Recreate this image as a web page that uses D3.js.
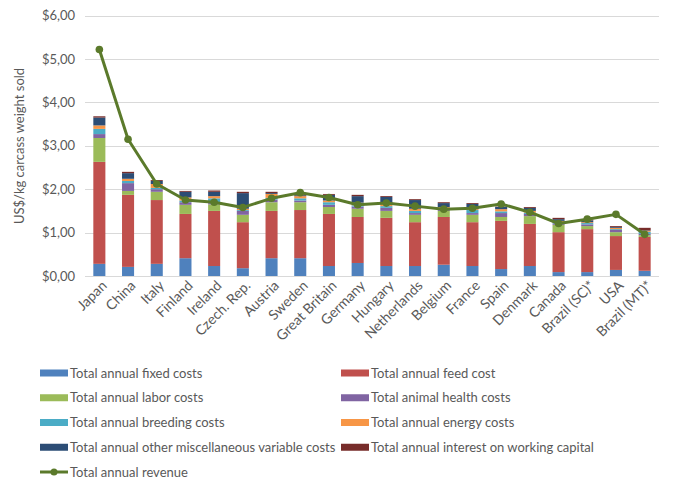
<!DOCTYPE html>
<html><head><meta charset="utf-8">
<script src="https://cdn.jsdelivr.net/npm/d3@7"></script>
<style>body{margin:0;background:#fff;} svg{display:block;}</style>
</head><body>
<svg id="chart" width="674" height="492"></svg>
<script>
const categories = ["Japan","China","Italy","Finland","Ireland","Czech. Rep.","Austria","Sweden","Great Britain","Germany","Hungary","Netherlands","Belgium","France","Spain","Denmark","Canada","Brazil (SC)*","USA","Brazil (MT)*"];
const fixedCosts     = [0.28,0.21,0.28,0.41,0.23,0.18,0.41,0.41,0.23,0.30,0.23,0.23,0.26,0.23,0.16,0.23,0.09,0.09,0.14,0.12];
const feedCost       = [2.35,1.66,1.47,1.02,1.27,1.06,1.09,1.11,1.20,1.06,1.11,1.01,1.10,1.01,1.11,0.97,0.92,0.99,0.78,0.78];
const laborCosts     = [0.55,0.09,0.19,0.21,0.15,0.17,0.20,0.18,0.16,0.19,0.16,0.17,0.14,0.17,0.09,0.18,0.17,0.07,0.09,0.04];
const healthCosts    = [0.09,0.18,0.06,0.06,0.03,0.09,0.06,0.04,0.05,0.05,0.07,0.04,0.03,0.04,0.09,0.05,0.03,0.04,0.05,0.03];
const breedingCosts  = [0.12,0.05,0.03,0.04,0.11,0.02,0.04,0.05,0.06,0.03,0.04,0.05,0.04,0.07,0.04,0.03,0.02,0.03,0.02,0.05];
const energyCosts    = [0.08,0.05,0.09,0.07,0.05,0.03,0.09,0.05,0.04,0.06,0.05,0.05,0.02,0.02,0.05,0.04,0.04,0.02,0.03,0.02];
const miscCosts      = [0.18,0.13,0.07,0.13,0.10,0.36,0.02,0.02,0.13,0.15,0.16,0.20,0.09,0.12,0.05,0.07,0.04,0.04,0.02,0.01];
const interestCosts  = [0.03,0.03,0.02,0.02,0.03,0.03,0.03,0.01,0.02,0.03,0.02,0.02,0.02,0.02,0.01,0.02,0.03,0.02,0.02,0.06];
const revenue        = [5.22,3.15,2.12,1.75,1.70,1.58,1.79,1.92,1.81,1.64,1.68,1.61,1.54,1.56,1.66,1.47,1.21,1.31,1.42,0.96];
const yTicks = [0,1,2,3,4,5,6];

const seriesNames = ["Total annual fixed costs","Total annual feed cost","Total annual labor costs","Total animal health costs","Total annual breeding costs","Total annual energy costs","Total annual other miscellaneous variable costs","Total annual interest on working capital"];
const seriesData = [fixedCosts,feedCost,laborCosts,healthCosts,breedingCosts,energyCosts,miscCosts,interestCosts];
const colors = ["#4F81BD","#C0504D","#9BBB59","#8064A2","#4BACC6","#F79646","#2C4D75","#772C2A"];
const lineName = "Total annual revenue";
const lineColor = "#5B7A2B";

const font = "Lato, 'Open Sans', sans-serif";
const textColor = "#595959";
const svg = d3.select("#chart");
const x = d3.scaleBand().domain(categories).range([85, 659]).paddingInner(0.58).paddingOuter(0.29);
const y = d3.scaleLinear().domain([0,6]).range([276, 15.6]);

// gridlines
svg.append("g").selectAll("line").data(yTicks).join("line")
  .attr("x1",85).attr("x2",659).attr("y1",d=>Math.round(y(d))+0.5).attr("y2",d=>Math.round(y(d))+0.5)
  .attr("stroke","#D9D9D9").attr("stroke-width",1);

// y axis labels
const yAxis = d3.axisLeft(y).tickValues(yTicks).tickSize(0).tickPadding(10)
  .tickFormat(d => "$" + d3.format(".2f")(d).replace(".", ","));
const gy = svg.append("g").attr("transform","translate(85,0)").call(yAxis);
gy.select(".domain").remove();
gy.selectAll("text").attr("font-family",font).attr("font-size","13px").attr("fill",textColor);

// y title
svg.append("text").attr("transform","translate(24,146) rotate(-90)")
  .attr("text-anchor","middle").attr("font-family",font).attr("font-size","13px").attr("fill",textColor)
  .text("US$/kg carcass weight sold");

// stacked bars
const table = categories.map((c,i)=>{const o={cat:c}; seriesNames.forEach((s,j)=>o[s]=seriesData[j][i]); return o;});
const stacked = d3.stack().keys(seriesNames)(table);
svg.append("g").selectAll("g").data(stacked).join("g").attr("fill",(d,i)=>colors[i])
  .selectAll("rect").data(d=>d).join("rect")
  .attr("x",d=>x(d.data.cat)).attr("width",x.bandwidth())
  .attr("y",d=>y(d[1])).attr("height",d=>y(d[0])-y(d[1]));

// x labels
const xAxis = d3.axisBottom(x).tickSize(0).tickPadding(0);
const gx = svg.append("g").attr("transform","translate(0,279)").call(xAxis);
gx.select(".domain").remove();
gx.selectAll("text").attr("font-family",font).attr("font-size","14px").attr("fill",textColor)
  .attr("text-anchor","end").attr("dy","0.35em").attr("dx","0")
  .attr("transform","translate(5,4) rotate(-45)");

// revenue line
const line = d3.line().x((d,i)=>x(categories[i])+x.bandwidth()/2).y(d=>y(d));
svg.append("path").datum(revenue).attr("d",line).attr("fill","none").attr("stroke",lineColor)
  .attr("stroke-width",3).attr("stroke-linejoin","round");
svg.append("g").selectAll("circle").data(revenue).join("circle")
  .attr("cx",(d,i)=>x(categories[i])+x.bandwidth()/2).attr("cy",d=>y(d)).attr("r",3.8).attr("fill",lineColor);

// legend
const legendItems = seriesNames.map((s,i)=>({name:s,color:colors[i],type:"rect"})).concat([{name:lineName,color:lineColor,type:"line"}]);
const lg = svg.append("g");
legendItems.forEach((d,i)=>{
  const col = i%2, row = Math.floor(i/2);
  const gx0 = col===0 ? 40 : 341;
  const gy0 = 373 + row*24.75;
  const g = lg.append("g").attr("transform",`translate(${gx0},${gy0})`);
  if(d.type==="rect"){
    g.append("rect").attr("x",0).attr("y",-3.5).attr("width",28).attr("height",7).attr("fill",d.color);
  } else {
    g.append("line").attr("x1",0).attr("x2",28).attr("y1",0).attr("y2",0).attr("stroke",d.color).attr("stroke-width",3);
    g.append("circle").attr("cx",14).attr("cy",0).attr("r",3.5).attr("fill",d.color);
  }
  g.append("text").attr("x",30).attr("y",0).attr("dy","0.35em").attr("font-family",font).attr("font-size","13px")
    .attr("fill",textColor).text(d.name);
});
</script>
</body></html>
